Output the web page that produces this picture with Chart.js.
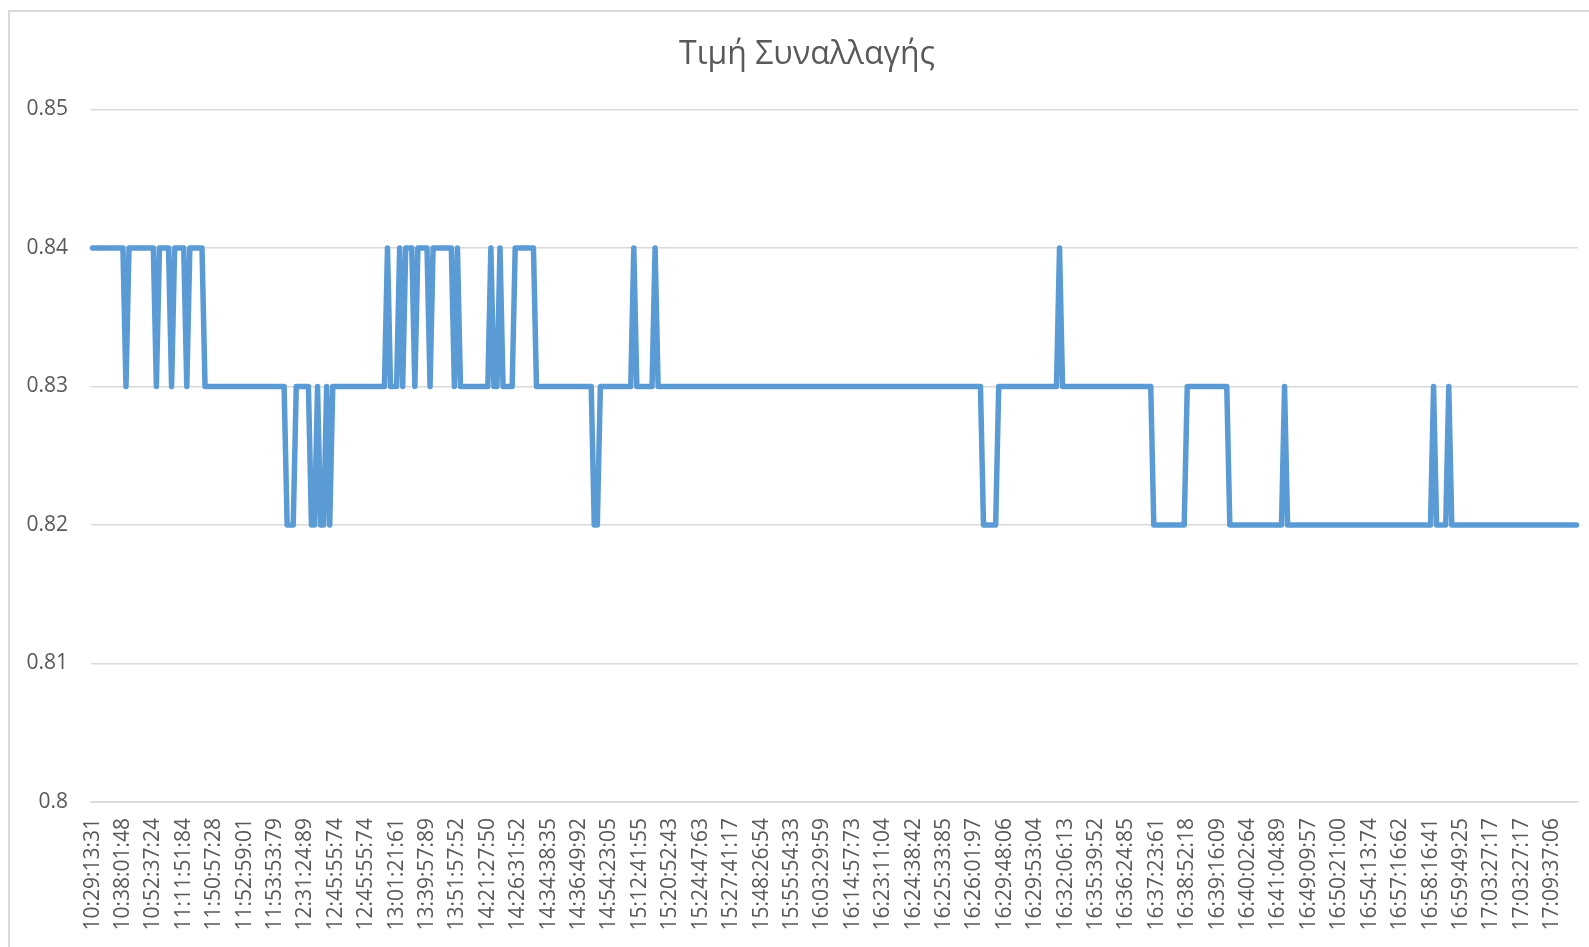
<!DOCTYPE html>
<html>
<head>
<meta charset="utf-8">
<title>Τιμή Συναλλαγής</title>
<script src="https://cdn.jsdelivr.net/npm/chart.js@4.4.1/dist/chart.umd.min.js"></script>
<style>
    html, body { margin: 0; padding: 0; background: #fff; overflow: hidden; }
    #frame { position: absolute; left: 8px; top: 10px; width: 1600px; height: 960px; border: 2px solid #d9d9d9; }
    #wrap { position: absolute; left: 0; top: 0; width: 1589px; height: 947px; }
</style>
</head>
<body>
<div id="frame"></div>
<div id="wrap"><canvas id="priceChart"></canvas></div>
<script>
// Time labels shown on the x axis (every 10th trade)
const tickLabels = [
    '10:29:13:31', '10:38:01:48', '10:52:37:24', '11:11:51:84', '11:50:57:28',
    '11:52:59:01', '11:53:53:79', '12:31:24:89', '12:45:55:74', '12:45:55:74',
    '13:01:21:61', '13:39:57:89', '13:51:57:52', '14:21:27:50', '14:26:31:52',
    '14:34:38:35', '14:36:49:92', '14:54:23:05', '15:12:41:55', '15:20:52:43',
    '15:24:47:63', '15:27:41:17', '15:48:26:54', '15:55:54:33', '16:03:29:59',
    '16:14:57:73', '16:23:11:04', '16:24:38:42', '16:25:33:85', '16:26:01:97',
    '16:29:48:06', '16:29:53:04', '16:32:06:13', '16:35:39:52', '16:36:24:85',
    '16:37:23:61', '16:38:52:18', '16:39:16:09', '16:40:02:64', '16:41:04:89',
    '16:49:09:57', '16:50:21:00', '16:54:13:74', '16:57:16:62', '16:58:16:41',
    '16:59:49:25', '17:03:27:17', '17:03:27:17', '17:09:37:06'
];
const labelStep = 10;

// Trade price: price and number of trades at that price
const runValues = [
    0.84, 0.83, 0.84, 0.83, 0.84, 0.83, 0.84, 0.83, 0.84, 0.83,
    0.82, 0.83, 0.82, 0.83, 0.82, 0.83, 0.82, 0.83, 0.84, 0.83,
    0.84, 0.83, 0.84, 0.83, 0.84, 0.83, 0.84, 0.83, 0.84, 0.83,
    0.84, 0.83, 0.84, 0.83, 0.84, 0.83, 0.82, 0.83, 0.84, 0.83,
    0.84, 0.83, 0.82, 0.83, 0.84, 0.83, 0.82, 0.83, 0.82, 0.83,
    0.82, 0.83, 0.82, 0.83, 0.82
];
const runLengths = [
    11, 1, 9, 1, 4, 1, 4, 1, 5, 27,
    3, 5, 2, 1, 2, 1, 1, 18, 1, 3,
    1, 1, 3, 1, 4, 1, 7, 1, 1, 10,
    1, 2, 1, 4, 7, 19, 2, 11, 1, 6,
    1, 107, 5, 20, 1, 30, 11, 14, 18, 1,
    48, 1, 4, 1, 42
];

let prices = [];
runValues.forEach((value, i) => {
    for (let k = 0; k < runLengths[i]; k++) {
        prices.push(value);
    }
});
let labels = prices.map((p, i) => i % labelStep === 0 ? (tickLabels[i / labelStep] || '') : '');

Chart.defaults.font.family = "'Open Sans', sans-serif";
Chart.defaults.color = '#595959';

const priceChart = new Chart(document.getElementById('priceChart'), {
    type: 'line',
    data: {
        labels: labels,
        datasets: [{
            label: 'Τιμή Συναλλαγής',
            data: prices,
            borderColor: '#5b9bd5',
            borderWidth: 5.5,
            borderJoinStyle: 'round',
            borderCapStyle: 'round',
            pointRadius: 0,
            tension: 0,
            fill: false
        }]
    },
    options: {
        responsive: true,
        maintainAspectRatio: false,
        animation: false,
        layout: { padding: { left: 27, right: 2, top: 0, bottom: 0 } },
        plugins: {
            legend: { display: false },
            tooltip: { enabled: false },
            title: {
                display: true,
                text: 'Τιμή Συναλλαγής',
                color: '#595959',
                font: { size: 32, weight: 'normal' },
                padding: { top: 36, bottom: 35 }
            }
        },
        scales: {
            x: {
                offset: true,
                grid: { display: false, drawTicks: false },
                border: { display: true, color: '#d9d9d9', width: 1.5 },
                ticks: {
                    autoSkip: false,
                    minRotation: 90,
                    maxRotation: 90,
                    padding: 16,
                    font: { size: 21 }
                },
                // fixed axis height and right margin, like the original sheet
                afterFit: function(scale) {
                    scale.height = 145;
                    scale.paddingLeft = 0;
                    scale.paddingRight = 11;
                }
            },
            y: {
                min: 0.8,
                max: 0.85,
                grid: { color: '#d9d9d9', lineWidth: 1.5, drawTicks: false },
                border: { display: false },
                ticks: {
                    stepSize: 0.01,
                    padding: 23,
                    font: { size: 21 },
                    callback: value => String(Number(value.toFixed(2)))
                },
                afterFit: function(scale) {
                    scale.width = 64;
                }
            }
        }
    }
});
</script>
</body>
</html>
